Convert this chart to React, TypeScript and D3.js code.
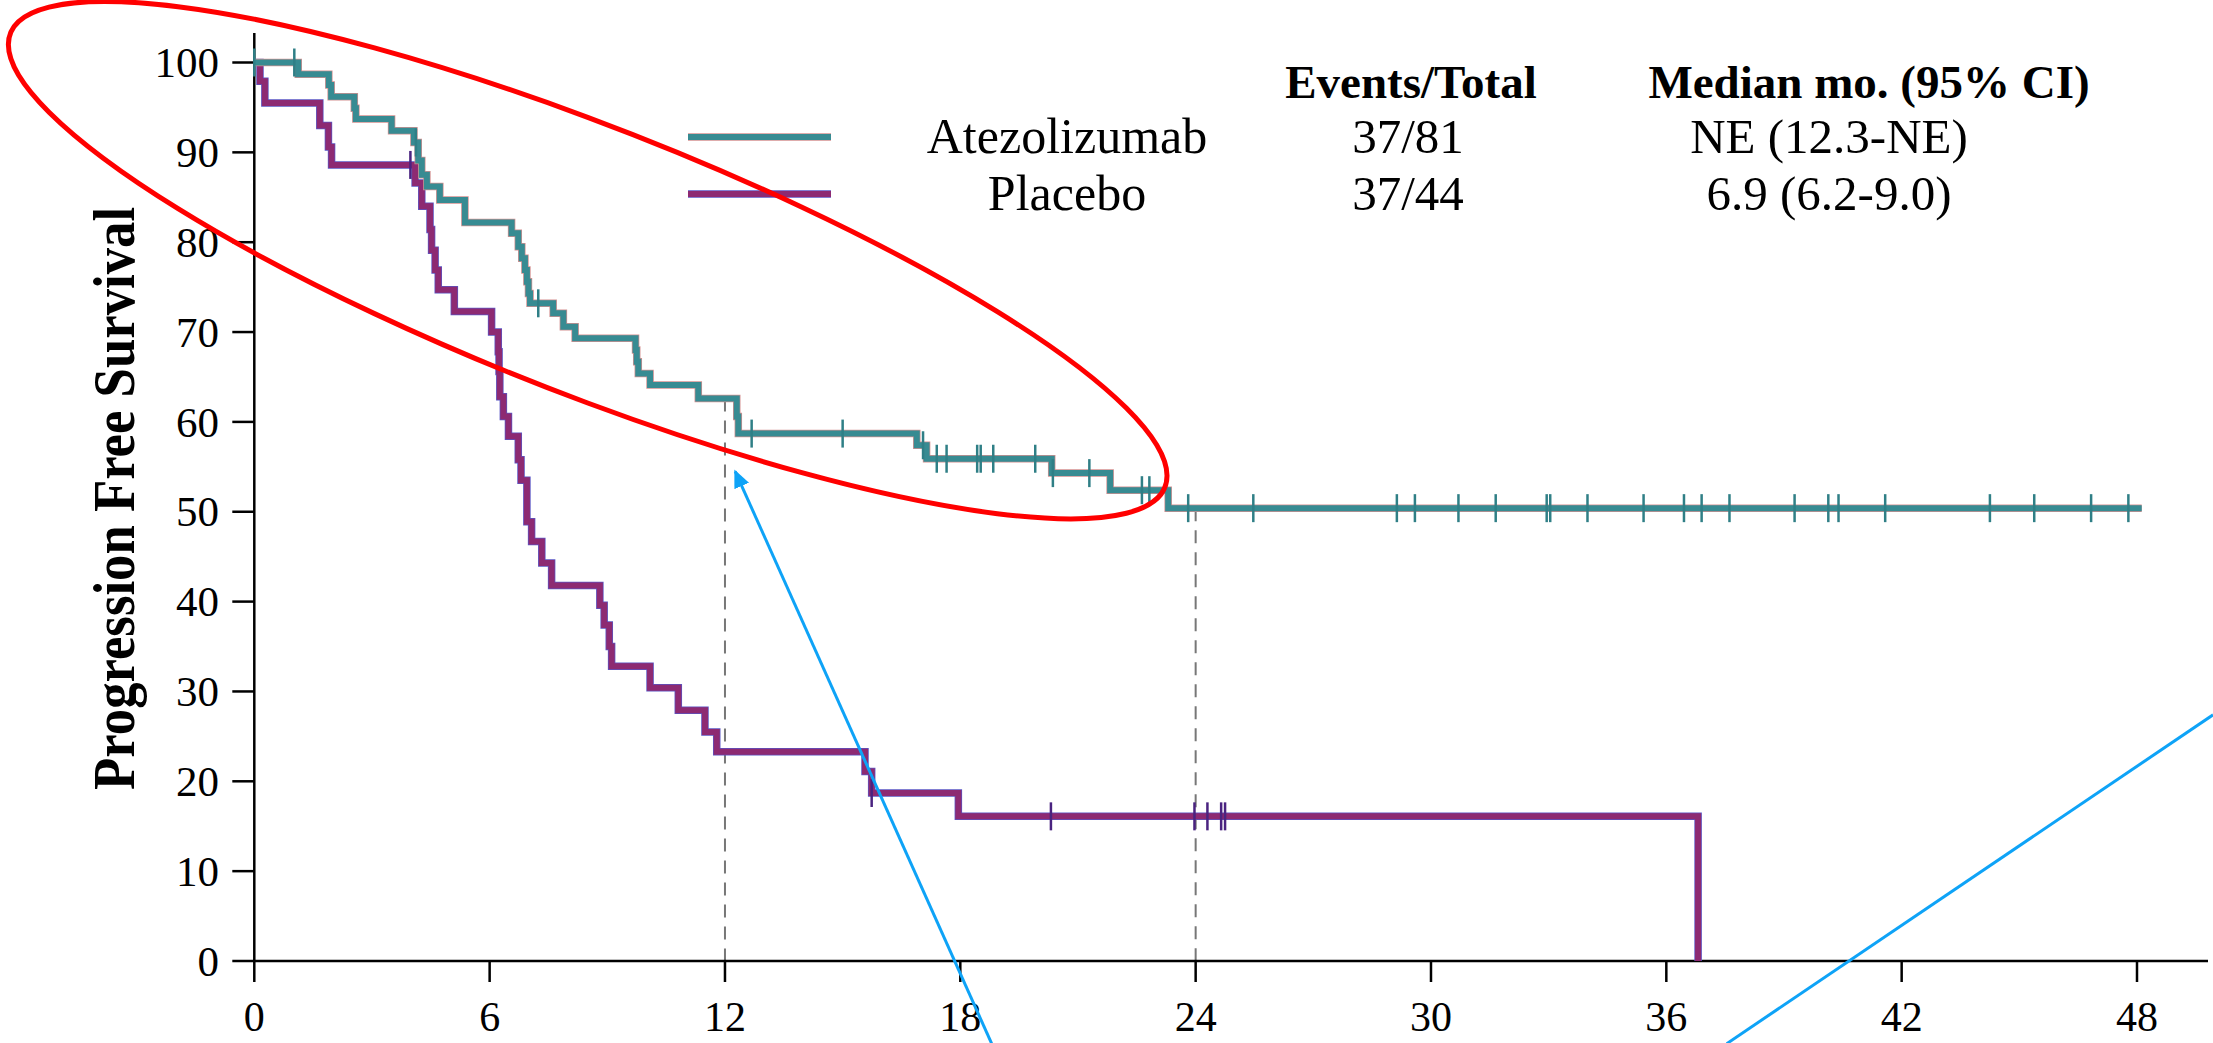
import React, { useEffect } from 'react';
import * as d3 from 'd3';

// ---------- data ----------
const xTicks = [0, 6, 12, 18, 24, 30, 36, 42, 48];
const yTicks = [0, 10, 20, 30, 40, 50, 60, 70, 80, 90, 100];

const atezoTimes = [1.12, 1.9, 1.96, 2.55, 2.59, 3.5, 4.07, 4.18, 4.27, 4.4, 4.73, 5.37, 6.56, 6.73, 6.82, 6.9, 6.95, 6.99, 7.03, 7.62, 7.88, 8.18, 9.72, 9.75, 9.79, 10.09, 11.32, 12.3, 12.34, 16.89, 17.14, 20.33, 21.82, 23.3];
const atezoSurv = [98.7, 97.5, 96.2, 94.9, 93.7, 92.4, 91.1, 89.1, 87.5, 86.2, 84.7, 82.2, 81.0, 79.5, 78.2, 76.9, 75.6, 74.3, 73.2, 72.1, 70.6, 69.3, 68.0, 66.7, 65.4, 64.1, 62.6, 60.6, 58.7, 57.4, 55.9, 54.3, 52.4, 50.4];
const atezoCensor = [0, 1.02, 4.12, 7.24, 12.68, 15.0, 17.05, 17.4, 17.65, 18.43, 18.52, 18.84, 19.91, 20.36, 21.29, 22.63, 22.82, 23.81, 25.47, 29.13, 29.59, 30.7, 31.65, 32.95, 33.04, 33.99, 35.42, 36.45, 36.9, 37.61, 39.27, 40.13, 40.39, 41.58, 44.25, 45.38, 46.83, 47.78];
const atezoEnd = 48.12;

const placeboTimes = [0.145, 0.27, 1.67, 1.89, 1.97, 4.1, 4.27, 4.48, 4.52, 4.61, 4.69, 5.1, 6.05, 6.22, 6.24, 6.26, 6.35, 6.48, 6.73, 6.8, 6.95, 7.07, 7.33, 7.58, 8.81, 8.92, 9.05, 9.11, 10.09, 10.81, 11.49, 11.79, 15.57, 15.74, 17.95, 36.81];
const placeboSurv = [97.9, 95.5, 93.0, 90.6, 88.6, 86.6, 84.0, 81.4, 79.1, 76.9, 74.7, 72.3, 70.0, 67.8, 65.6, 62.8, 60.6, 58.4, 55.8, 53.5, 48.9, 46.7, 44.3, 41.8, 39.6, 37.4, 35.0, 32.8, 30.4, 27.9, 25.5, 23.3, 21.1, 18.7, 16.1, 0];
const placeboCensor = [3.98, 15.74, 20.31, 23.97, 24.3, 24.65, 24.75];

const seriesNames = ['Atezolizumab', 'Placebo'];
const eventsTotal = ['37/81', '37/44'];
const medians = ['NE (12.3-NE)', '6.9 (6.2-9.0)'];
const landmarks = [12, 24];

// annotation geometry in data units (months, %)
const ellipseCenter = [8.5, 78.0];
const ellipseRight = [23.27, 54.0];
const ellipseTop = [8.5, 93.9];
const arrowFrom = [18.8, -9.2];
const arrowTo = [12.26, 54.5];
const line2From = [37.54, -9.2];
const line2To = [49.94, 27.4];

// ---------- style ----------
const W = 2213;
const H = 1043;
const TEAL = '#378b92';
const TEAL_EDGE = '#d39090';
const PURPLE = '#8d2a72';
const PURPLE_EDGE = '#5a55c4';
const PURPLE_CENSOR = '#4a2380';
const RED = '#ff0000';
const BLUE = '#0ea3f7';
const FONT = "'Liberation Serif', 'Times New Roman', Times, serif";

function stepValue(times: number[], surv: number[], t: number) {
  let v = 100;
  for (let i = 0; i < times.length; i++) {
    if (times[i] <= t) v = surv[i];
  }
  return v;
}

export default function App() {
  useEffect(() => {
    document.body.style.margin = '0';
    document.body.style.overflow = 'hidden';
  }, []);

  const x = d3.scaleLinear().domain([0, 48]).range([254.3, 2137]);
  const y = d3.scaleLinear().domain([0, 100]).range([961, 62.5]);
  const line = d3
    .line<number[]>()
    .x((d) => x(d[0]))
    .y((d) => y(d[1]))
    .curve(d3.curveStepAfter);

  const atezoPts: number[][] = [[0, 100], ...atezoTimes.map((t, i) => [t, atezoSurv[i]]), [atezoEnd, atezoSurv[atezoSurv.length - 1]]];
  const placeboPts: number[][] = [[0, 100], ...placeboTimes.map((t, i) => [t, placeboSurv[i]])];

  const cx = x(ellipseCenter[0]);
  const cy = y(ellipseCenter[1]);
  const ax = x(ellipseRight[0]) - cx;
  const ay = y(ellipseRight[1]) - cy;
  const bx = x(ellipseTop[0]) - cx;
  const by = y(ellipseTop[1]) - cy;

  const x0 = x(0);
  const y0 = y(0);
  const cTick = 14;

  return (
    <svg width={W} height={H} style={{ position: 'absolute', left: 0, top: 0, background: '#fff' }} fontFamily={FONT}>
      <defs>
        <marker id="ah" markerUnits="userSpaceOnUse" markerWidth="18" markerHeight="16" refX="16" refY="8" orient="auto">
          <path d="M0,0 L18,8 L0,16 Z" fill={BLUE} />
        </marker>
      </defs>
      <rect x={0} y={0} width={W} height={H} fill="#fff" />

      {/* landmark dashed lines */}
      {landmarks.map((t) => (
        <line key={t} x1={x(t)} x2={x(t)} y1={y(stepValue(atezoTimes, atezoSurv, t))} y2={y0} stroke="#777" strokeWidth={2} strokeDasharray="13 9" />
      ))}

      {/* axes */}
      <line x1={x0} x2={x0} y1={33} y2={y0 + 1} stroke="#000" strokeWidth={2.5} />
      <line x1={x0 - 1} x2={2208} y1={y0} y2={y0} stroke="#000" strokeWidth={2.5} />
      {yTicks.map((v) => (
        <g key={'y' + v}>
          <line x1={x0 - 22} x2={x0} y1={y(v)} y2={y(v)} stroke="#000" strokeWidth={2.5} />
          <text x={219} y={y(v)} dy="0.34em" textAnchor="end" fontSize={43} fill="#000">
            {v}
          </text>
        </g>
      ))}
      {xTicks.map((t) => (
        <g key={'x' + t}>
          <line x1={x(t)} x2={x(t)} y1={y0} y2={y0 + 21} stroke="#000" strokeWidth={2.5} />
          <text x={x(t)} y={1031} textAnchor="middle" fontSize={42} fill="#000">
            {t}
          </text>
        </g>
      ))}
      <text
        transform={`translate(134,498.4) rotate(-90)`}
        textAnchor="middle"
        fontWeight="bold"
        fontSize={59}
        textLength={583}
        lengthAdjust="spacingAndGlyphs"
        fill="#000"
      >
        Progression Free Survival
      </text>

      {/* curves */}
      <path d={line(placeboPts) || ''} fill="none" stroke={PURPLE_EDGE} strokeWidth={7.5} />
      <path d={line(placeboPts) || ''} fill="none" stroke={PURPLE} strokeWidth={6} />
      <path d={line(atezoPts) || ''} fill="none" stroke={TEAL_EDGE} strokeWidth={7.5} />
      <path d={line(atezoPts) || ''} fill="none" stroke={TEAL} strokeWidth={6} />

      {placeboCensor.map((t, i) => {
        const v = stepValue(placeboTimes, placeboSurv, t);
        return <line key={'pc' + i} x1={x(t)} x2={x(t)} y1={y(v) - cTick} y2={y(v) + cTick} stroke={PURPLE_CENSOR} strokeWidth={2.5} />;
      })}
      {atezoCensor.map((t, i) => {
        const v = stepValue(atezoTimes, atezoSurv, t);
        return <line key={'ac' + i} x1={x(t)} x2={x(t)} y1={y(v) - cTick} y2={y(v) + cTick} stroke="#2f7f86" strokeWidth={2.5} />;
      })}

      {/* legend table */}
      <text x={1411} y={98} textAnchor="middle" fontWeight="bold" fontSize={47} fill="#000">
        Events/Total
      </text>
      <text x={1869} y={98} textAnchor="middle" fontWeight="bold" fontSize={47} fill="#000">
        Median mo. (95% CI)
      </text>
      {seriesNames.map((name, i) => {
        const ly = i === 0 ? 137 : 194;
        const by2 = i === 0 ? 153 : 210;
        return (
          <g key={name}>
            <line x1={688} x2={831} y1={ly} y2={ly} stroke={i === 0 ? TEAL_EDGE : PURPLE_EDGE} strokeWidth={7.5} />
            <line x1={688} x2={831} y1={ly} y2={ly} stroke={i === 0 ? TEAL : PURPLE} strokeWidth={6} />
            <text x={1067} y={by2} textAnchor="middle" fontSize={50} fill="#000">
              {name}
            </text>
            <text x={1408} y={by2} textAnchor="middle" fontSize={49} fill="#000">
              {eventsTotal[i]}
            </text>
            <text x={1829} y={by2} textAnchor="middle" fontSize={49} fill="#000">
              {medians[i]}
            </text>
          </g>
        );
      })}

      {/* annotations */}
      <circle cx={0} cy={0} r={1} fill="none" stroke={RED} strokeWidth={5} vectorEffect="non-scaling-stroke" transform={`matrix(${ax} ${ay} ${bx} ${by} ${cx} ${cy})`} />
      <line x1={x(arrowFrom[0])} y1={y(arrowFrom[1])} x2={x(arrowTo[0])} y2={y(arrowTo[1])} stroke={BLUE} strokeWidth={3} markerEnd="url(#ah)" />
      <line x1={x(line2From[0])} y1={y(line2From[1])} x2={x(line2To[0])} y2={y(line2To[1])} stroke={BLUE} strokeWidth={3} />
    </svg>
  );
}
